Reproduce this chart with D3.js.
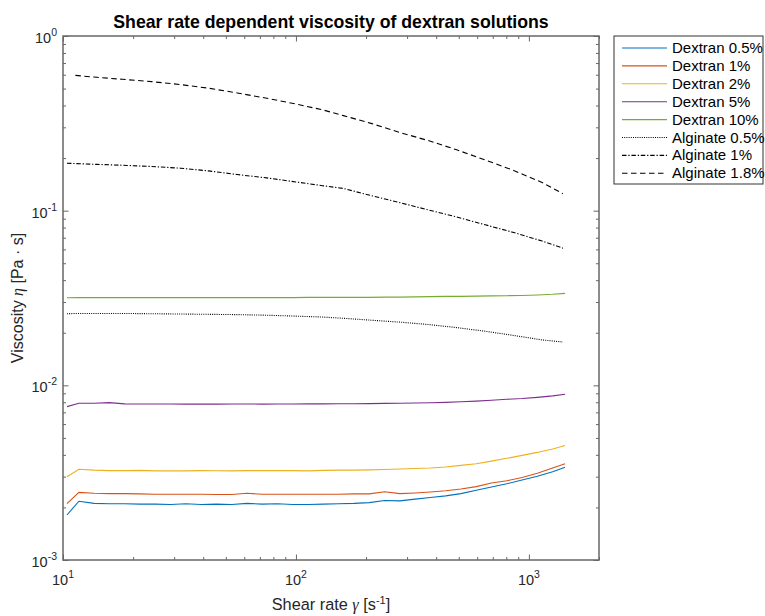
<!DOCTYPE html>
<html>
<head>
<meta charset="utf-8">
<script src="https://cdn.jsdelivr.net/npm/d3@7"></script>
<style>
  body { margin: 0; background: #fff; }
  svg { font-family: "Liberation Sans", Arial, sans-serif; }
</style>
</head>
<body>
<div id="vis"></div>
<script>
// shear rates [1/s]
const shearDextran = [10.4, 11.7, 13.6, 15.8, 18.4, 21.4, 24.9, 29.0, 33.7, 39.2, 45.6, 53.0,
  61.7, 71.7, 83.4, 97.0, 112.8, 131.2, 152.6, 177.5, 206.4, 240.1, 279.2, 324.8, 377.7,
  439.3, 510.9, 594.2, 691.1, 803.8, 934.9, 1087, 1265, 1430];
const shearAlginate = [10.4, 11.3, 14, 18, 24, 32, 42, 56, 75, 100, 130, 160, 210, 280, 370,
  490, 650, 860, 1140, 1400];

// viscosities [Pa s]
const dextran05 = [0.00181, 0.00217, 0.00211, 0.00210, 0.00210, 0.00209, 0.00209, 0.00208,
  0.00210, 0.00208, 0.00209, 0.00208, 0.00211, 0.00209, 0.00210, 0.00208, 0.00208, 0.00209,
  0.00210, 0.00211, 0.00213, 0.00219, 0.00218, 0.00223, 0.00228, 0.00233, 0.00240, 0.00251,
  0.00262, 0.00273, 0.00287, 0.00302, 0.00320, 0.00340];
const dextran1 = [0.00210, 0.00244, 0.00241, 0.00240, 0.00240, 0.00239, 0.00238, 0.00238,
  0.00238, 0.00238, 0.00237, 0.00237, 0.00241, 0.00238, 0.00238, 0.00238, 0.00238, 0.00238,
  0.00238, 0.00239, 0.00239, 0.00246, 0.00240, 0.00242, 0.00245, 0.00249, 0.00255, 0.00263,
  0.00276, 0.00284, 0.00297, 0.00314, 0.00336, 0.00356];
const dextran2 = [0.00300, 0.00331, 0.00327, 0.00325, 0.00325, 0.00326, 0.00324, 0.00324,
  0.00324, 0.00325, 0.00324, 0.00324, 0.00325, 0.00325, 0.00325, 0.00325, 0.00324, 0.00326,
  0.00327, 0.00327, 0.00328, 0.00330, 0.00332, 0.00334, 0.00336, 0.00341, 0.00348, 0.00356,
  0.00368, 0.00382, 0.00397, 0.00413, 0.00432, 0.00452];
const dextran5 = [0.00755, 0.00789, 0.00790, 0.00796, 0.00783, 0.00782, 0.00782, 0.00782,
  0.00781, 0.00781, 0.00781, 0.00782, 0.00782, 0.00781, 0.00782, 0.00782, 0.00783, 0.00783,
  0.00784, 0.00785, 0.00786, 0.00788, 0.00789, 0.00792, 0.00795, 0.00799, 0.00805, 0.00812,
  0.00822, 0.00832, 0.00840, 0.00853, 0.00870, 0.00889];
const dextran10 = [0.0317, 0.0318, 0.0318, 0.0318, 0.0318, 0.0318, 0.0318, 0.0318, 0.0318,
  0.0318, 0.0318, 0.0318, 0.0318, 0.0318, 0.0318, 0.0318, 0.0319, 0.0319, 0.0319, 0.0319,
  0.0319, 0.0320, 0.0320, 0.0321, 0.0322, 0.0323, 0.0323, 0.0324, 0.0325, 0.0326, 0.0327,
  0.0329, 0.0332, 0.0336];
const alginate05 = [0.0257, 0.0258, 0.0258, 0.0258, 0.0257, 0.0256, 0.0255, 0.0254, 0.0252,
  0.0249, 0.0246, 0.0242, 0.0236, 0.0230, 0.0223, 0.0214, 0.0204, 0.0193, 0.0182, 0.0177];
const alginate1 = [0.187, 0.186, 0.184, 0.182, 0.179, 0.175, 0.169, 0.161, 0.154, 0.146,
  0.139, 0.134, 0.122, 0.111, 0.101, 0.092, 0.083, 0.075, 0.067, 0.061];
const alginate18 = [null, 0.595, 0.580, 0.565, 0.548, 0.527, 0.503, 0.472, 0.440, 0.408,
  0.378, 0.350, 0.316, 0.280, 0.252, 0.223, 0.195, 0.170, 0.145, 0.125];

const seriesNames = ["Dextran 0.5%", "Dextran 1%", "Dextran 2%", "Dextran 5%", "Dextran 10%",
  "Alginate 0.5%", "Alginate 1%", "Alginate 1.8%"];
const xMajorTicks = [10, 100, 1000];
const yMajorTicks = [1e-3, 1e-2, 1e-1, 1];

const series = [
  { name: seriesNames[0], x: shearDextran, y: dextran05, color: "#0072BD", dash: null },
  { name: seriesNames[1], x: shearDextran, y: dextran1, color: "#D95319", dash: null },
  { name: seriesNames[2], x: shearDextran, y: dextran2, color: "#EDB120", dash: null },
  { name: seriesNames[3], x: shearDextran, y: dextran5, color: "#7E2F8E", dash: null },
  { name: seriesNames[4], x: shearDextran, y: dextran10, color: "#77AC30", dash: null },
  { name: seriesNames[5], x: shearAlginate, y: alginate05, color: "#000", dash: "1,1.2" },
  { name: seriesNames[6], x: shearAlginate, y: alginate1, color: "#000", dash: "4.5,1.8,1.3,1.8" },
  { name: seriesNames[7], x: shearAlginate, y: alginate18, color: "#000", dash: "5.5,3.5" }
];

const W = 765, H = 616;
const margin = { top: 36, left: 63, right: 166, bottom: 56 };
const width = W - margin.left - margin.right;
const height = H - margin.top - margin.bottom;
const axisColor = "#676767";
const textColor = "#262626";

const svg = d3.select("#vis").append("svg")
  .attr("width", W)
  .attr("height", H);

const x = d3.scaleLog().domain([10, 2000]).range([0, width]);
const y = d3.scaleLog().domain([1e-3, 1]).range([height, 0]);

const g = svg.append("g")
  .attr("transform", "translate(" + margin.left + "," + margin.top + ")");

// minor tick values
const xMinor = x.ticks().filter(d => xMajorTicks.indexOf(d) < 0);
const yMinor = y.ticks().filter(d => !yMajorTicks.some(m => Math.abs(m - d) / m < 1e-6));

function tickAxis(axisFn, scale, values, size, transform) {
  const a = g.append("g")
    .attr("transform", transform)
    .call(axisFn(scale).tickValues(values).tickSize(size).tickFormat(""));
  a.select(".domain").remove();
  a.selectAll("line").attr("stroke", axisColor).attr("stroke-width", 1);
}

tickAxis(d3.axisBottom, x, xMinor, -3, "translate(0," + height + ")");
tickAxis(d3.axisBottom, x, xMajorTicks, -5.5, "translate(0," + height + ")");
tickAxis(d3.axisTop, x, xMinor, -3, "translate(0,0)");
tickAxis(d3.axisTop, x, xMajorTicks, -5.5, "translate(0,0)");
tickAxis(d3.axisLeft, y, yMinor, -3, "translate(0,0)");
tickAxis(d3.axisLeft, y, yMajorTicks, -5.5, "translate(0,0)");
tickAxis(d3.axisRight, y, yMinor, -3, "translate(" + width + ",0)");
tickAxis(d3.axisRight, y, yMajorTicks, -5.5, "translate(" + width + ",0)");

// lines
const line = d3.line()
  .defined(d => d[1] != null)
  .x(d => x(d[0]))
  .y(d => y(d[1]));

g.selectAll(".series")
  .data(series)
  .enter()
  .append("path")
  .attr("class", "series")
  .attr("fill", "none")
  .attr("stroke", d => d.color)
  .attr("stroke-width", 1.1)
  .attr("stroke-dasharray", d => d.dash)
  .attr("d", d => line(d.x.map((v, i) => [v, d.y[i]])));

// box
g.append("rect")
  .attr("width", width)
  .attr("height", height)
  .attr("fill", "none")
  .attr("stroke", axisColor)
  .attr("stroke-width", 1.5);

// tick labels
g.selectAll(".xlab")
  .data(xMajorTicks)
  .enter()
  .append("text")
  .attr("class", "xlab")
  .attr("x", d => x(d))
  .attr("y", height + 25)
  .attr("text-anchor", "middle")
  .attr("fill", textColor)
  .attr("font-size", 14.5)
  .each(function (d) {
    const t = d3.select(this);
    t.append("tspan").text("10");
    t.append("tspan").attr("dy", -7).attr("font-size", 10.5).text(Math.round(Math.log10(d)));
  });

g.selectAll(".ylab")
  .data(yMajorTicks)
  .enter()
  .append("text")
  .attr("class", "ylab")
  .attr("x", -6)
  .attr("y", d => y(d) + 7)
  .attr("text-anchor", "end")
  .attr("fill", textColor)
  .attr("font-size", 14.5)
  .each(function (d) {
    const t = d3.select(this);
    t.append("tspan").text("10");
    t.append("tspan").attr("dy", -7).attr("font-size", 10.5).text(Math.round(Math.log10(d)));
  });

// axis titles
const xt = svg.append("text")
  .attr("x", margin.left + width / 2)
  .attr("y", 610)
  .attr("text-anchor", "middle")
  .attr("fill", textColor)
  .attr("font-size", 16.3);
xt.append("tspan").text("Shear rate ");
xt.append("tspan").attr("font-family", "Liberation Serif").attr("font-style", "italic").text("γ");
xt.append("tspan").text(" [s");
xt.append("tspan").attr("dy", -6).attr("font-size", 11).text("-1");
xt.append("tspan").attr("dy", 6).text("]");

const yt = svg.append("text")
  .attr("transform", "translate(23," + (margin.top + height / 2) + ") rotate(-90)")
  .attr("text-anchor", "middle")
  .attr("fill", textColor)
  .attr("font-size", 16);
yt.append("tspan").text("Viscosity ");
yt.append("tspan").attr("font-family", "Liberation Serif").attr("font-style", "italic").text("η");
yt.append("tspan").text(" [Pa · s]");

// title
svg.append("text")
  .attr("x", margin.left + width / 2)
  .attr("y", 28)
  .attr("text-anchor", "middle")
  .attr("font-weight", "bold")
  .attr("font-size", 17.7)
  .attr("fill", "#000")
  .text("Shear rate dependent viscosity of dextran solutions");

// legend
const legend = svg.append("g").attr("transform", "translate(614,36)");
legend.append("rect")
  .attr("width", 149)
  .attr("height", 148)
  .attr("fill", "#fff")
  .attr("stroke", "#333")
  .attr("stroke-width", 1);

const rows = legend.selectAll(".row")
  .data(series)
  .enter()
  .append("g")
  .attr("class", "row")
  .attr("transform", (d, i) => "translate(0," + (12 + i * 17.9) + ")");
rows.append("line")
  .attr("x1", 8).attr("x2", 53)
  .attr("stroke", d => d.color)
  .attr("stroke-width", 1.1)
  .attr("stroke-dasharray", d => d.dash);
rows.append("text")
  .attr("x", 58)
  .attr("y", 5)
  .attr("font-size", 15)
  .attr("fill", "#000")
  .text(d => d.name);
</script>
</body>
</html>
